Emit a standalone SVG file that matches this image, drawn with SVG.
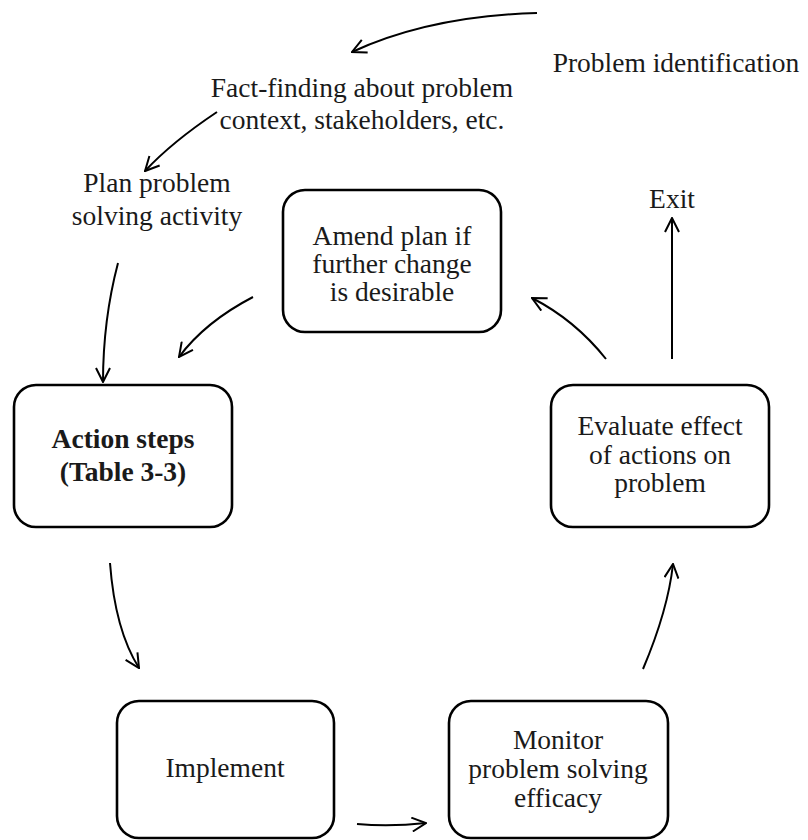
<svg xmlns="http://www.w3.org/2000/svg" width="808" height="840" viewBox="0 0 808 840">
<defs>
<style>
.box{fill:#fff;stroke:#000;stroke-width:2.6}
.t{font-family:"Liberation Serif","Times New Roman",serif;font-size:27.5px;fill:#1a1a1a;text-anchor:middle}
.b{font-weight:bold}
.c{fill:none;stroke:#000;stroke-width:2}
</style>
<marker id="ah" viewBox="0 0 16 16" refX="15" refY="8" markerWidth="16" markerHeight="16" markerUnits="userSpaceOnUse" orient="auto">
<path d="M1,1 L15,8 L1,15" fill="none" stroke="#000" stroke-width="2"/>
</marker>
</defs>
<rect width="808" height="840" fill="#fff"/>
<g id="problem-identification"><text class="t" x="676" y="72">Problem identification</text></g>
<g id="fact-finding"><text class="t" x="362" y="97">Fact-finding about problem</text><text class="t" x="362" y="129">context, stakeholders, etc.</text></g>
<g id="plan"><text class="t" x="157" y="192">Plan problem</text><text class="t" x="157" y="225">solving activity</text></g>
<g id="exit"><text class="t" x="672" y="208">Exit</text></g>
<g id="amend"><rect class="box" x="283" y="190" width="218" height="142" rx="22"/><text class="t" x="392" y="245">Amend plan if</text><text class="t" x="392" y="273">further change</text><text class="t" x="392" y="301">is desirable</text></g>
<g id="action"><rect class="box" x="14" y="385" width="218" height="142" rx="22"/><text class="t b" x="123" y="448">Action steps</text><text class="t b" x="123" y="481">(Table 3-3)</text></g>
<g id="evaluate"><rect class="box" x="551" y="385" width="218" height="142" rx="22"/><text class="t" x="660" y="435">Evaluate effect</text><text class="t" x="660" y="464">of actions on</text><text class="t" x="660" y="492">problem</text></g>
<g id="implement"><rect class="box" x="117" y="701" width="217" height="137" rx="22"/><text class="t" x="225" y="777">Implement</text></g>
<g id="monitor"><rect class="box" x="449" y="701" width="219" height="137" rx="22"/><text class="t" x="558" y="749">Monitor</text><text class="t" x="558" y="778">problem solving</text><text class="t" x="558" y="807">efficacy</text></g>
<g id="connectors">
<path class="c" marker-end="url(#ah)" d="M537,13 Q430,16 352,52"/>
<path class="c" marker-end="url(#ah)" d="M217,112 Q172,142 145,171"/>
<path class="c" marker-end="url(#ah)" d="M118,263 Q103,320 103,382"/>
<path class="c" marker-end="url(#ah)" d="M253,297 Q205,322 179,357"/>
<path class="c" marker-end="url(#ah)" d="M606,359 Q575,320 532,298"/>
<path class="c" marker-end="url(#ah)" d="M672,359 L672,218"/>
<path class="c" marker-end="url(#ah)" d="M110,563 Q115,630 139,668"/>
<path class="c" marker-end="url(#ah)" d="M357,824 Q390,827 426,823"/>
<path class="c" marker-end="url(#ah)" d="M643,669 Q668,610 673,564"/>
</g>
</svg>
